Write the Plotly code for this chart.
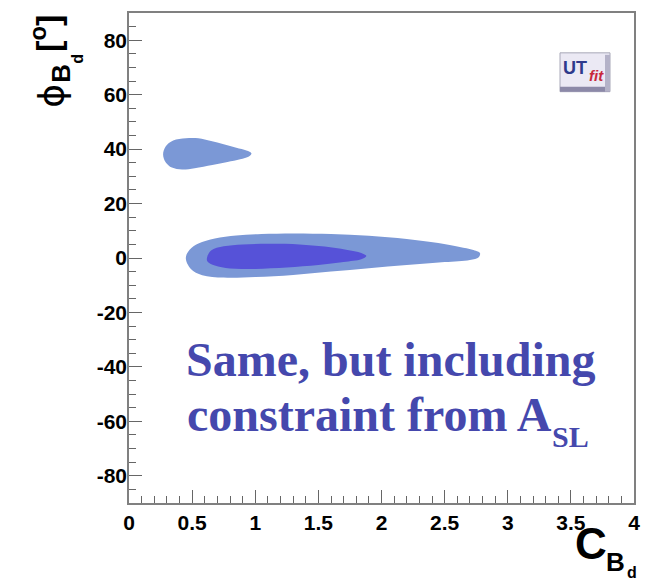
import plotly.graph_objects as go

# ---- data: contour boundaries (C_Bd, phi_Bd [deg]) ----
outer_main_x = [0.45, 0.48, 0.55, 0.68, 0.85, 1.05, 1.30, 1.60, 1.90, 2.20, 2.45, 2.62, 2.72, 2.78, 2.77, 2.70, 2.50, 2.20, 1.90, 1.60, 1.30, 1.00, 0.75, 0.58, 0.49, 0.45]
outer_main_y = [0.0, 3.0, 5.3, 7.2, 8.3, 8.8, 9.0, 8.8, 8.2, 7.0, 5.5, 4.0, 3.0, 1.8, 0.3, -0.7, -1.5, -2.6, -3.8, -5.0, -6.2, -7.0, -7.2, -6.3, -4.0, 0.0]

inner_main_x = [0.62, 0.65, 0.75, 0.90, 1.10, 1.35, 1.55, 1.72, 1.84, 1.88, 1.84, 1.70, 1.50, 1.25, 1.00, 0.80, 0.68, 0.62, 0.62]
inner_main_y = [0.5, 2.8, 4.3, 5.0, 5.2, 5.0, 4.2, 3.0, 1.8, 0.7, -0.5, -1.5, -2.6, -3.5, -4.0, -3.9, -2.8, -1.2, 0.5]

small_x = [0.27, 0.29, 0.35, 0.45, 0.55, 0.65, 0.75, 0.85, 0.93, 0.97, 0.95, 0.88, 0.78, 0.66, 0.52, 0.42, 0.34, 0.29, 0.27]
small_y = [38.0, 41.0, 43.2, 44.0, 44.0, 43.0, 41.8, 40.5, 39.5, 38.5, 37.3, 36.3, 35.3, 34.2, 33.0, 32.5, 33.2, 35.2, 38.0]

x_range = [0, 4]
y_range = [-90, 90]
y_tick_vals = [-80, -60, -40, -20, 0, 20, 40, 60, 80]
y_tick_text = ["-80", "-60", "-40", "-20", "0", "20", "40", "60", "80"]
x_tick_vals = [0, 0.5, 1, 1.5, 2, 2.5, 3, 3.5, 4]
x_tick_text = ["0", "0.5", "1", "1.5", "2", "2.5", "3", "3.5", "4"]

OUTER = "#7b98d6"
INNER = "#5652d8"

fig = go.Figure()
for xs, ys, col in [(outer_main_x, outer_main_y, OUTER),
                    (inner_main_x, inner_main_y, INNER),
                    (small_x, small_y, OUTER)]:
    fig.add_trace(go.Scatter(x=xs, y=ys, mode="lines", fill="toself",
                             fillcolor=col, line=dict(width=0, color=col, shape="spline"),
                             hoverinfo="skip", showlegend=False))

OFF = 8  # page body margin
W, H = 650 - OFF, 579 - OFF
# plot frame in screen pixels
L, R, T, B = 129, 634, 11, 503

def px(x):
    return (x - L) / (R - L)

def py(y):
    return (B - y) / (B - T)

axis_common = dict(showline=True, linecolor="#808080", linewidth=1.5, mirror=True,
                   ticks="inside", tickcolor="#666", tickwidth=1.2,
                   showgrid=False, zeroline=False, tickmode="array",
                   tickfont=dict(family="Liberation Sans", size=21, color="black", weight="bold"))

fig.update_xaxes(range=x_range, tickvals=x_tick_vals, ticktext=x_tick_text, ticklen=13,
                 minor=dict(dtick=0.1, tick0=0, ticklen=7, ticks="inside", tickcolor="#666", tickwidth=1.2),
                 **axis_common)
fig.update_yaxes(range=y_range, tickvals=y_tick_vals, ticktext=y_tick_text, ticklen=13,
                 ticklabelstandoff=-4,
                 minor=dict(dtick=5, tick0=0, ticklen=7, ticks="inside", tickcolor="#666", tickwidth=1.2),
                 **axis_common)

ann = []
SANS = "Liberation Sans"
SERIF = "Liberation Serif"
TXT = "#4548ad"

# x-axis title C_{B_d}
ann.append(dict(text="C", x=px(591), y=py(544), font=dict(family=SANS, size=44, color="black", weight="bold")))
ann.append(dict(text="B", x=px(615), y=py(562), font=dict(family=SANS, size=26, color="black", weight="bold")))
ann.append(dict(text="d", x=px(632), y=py(573), font=dict(family=SANS, size=16, color="black", weight="bold")))

# y-axis title phi_{B_d} [deg]
ann.append(dict(text="ϕ", x=px(52), y=py(94), textangle=-90, font=dict(family="DejaVu Sans", size=36, color="black")))
ann.append(dict(text="B", x=px(61), y=py(72), textangle=-90, font=dict(family=SANS, size=26, color="black", weight="bold")))
ann.append(dict(text="d", x=px(78), y=py(57), textangle=-90, font=dict(family=SANS, size=16, color="black", weight="bold")))
ann.append(dict(text="[<sup>o</sup>]", x=px(46), y=py(32), textangle=-90, font=dict(family=SANS, size=34, color="black", weight="bold")))

# overlay text
ann.append(dict(text="Same, but including", x=px(184), y=py(359), xanchor="left",
                font=dict(family=SERIF, size=48, color=TXT, weight="bold")))
ann.append(dict(text="constraint from A", x=px(185), y=py(414), xanchor="left",
                font=dict(family=SERIF, size=48, color=TXT, weight="bold")))
ann.append(dict(text="SL", x=px(550), y=py(436), xanchor="left",
                font=dict(family=SERIF, size=30, color=TXT, weight="bold")))

# UTfit logo
ann.append(dict(text="UT", x=px(575), y=py(66), font=dict(family=SANS, size=18, color="#2e3a8c", weight="bold")))
ann.append(dict(text="<i>fit</i>", x=px(596), y=py(74), font=dict(family=SANS, size=15, color="#c8283c", weight="bold")))

for a in ann:
    a.setdefault("xanchor", "center")
    a.setdefault("yanchor", "middle")
    a.update(xref="paper", yref="paper", showarrow=False)

shapes = [
    dict(type="rect", xref="paper", yref="paper", x0=px(560), x1=px(610), y0=py(90), y1=py(51),
         fillcolor="#ebe9f4", line=dict(color="#a8a8b8", width=1), layer="above"),
    dict(type="rect", xref="paper", yref="paper", x0=px(560), x1=px(610), y0=py(90), y1=py(85),
         fillcolor="#8c89a8", line=dict(width=0), layer="above"),
    dict(type="rect", xref="paper", yref="paper", x0=px(605), x1=px(610), y0=py(90), y1=py(53),
         fillcolor="#b4b2c8", line=dict(width=0), layer="above"),
]

fig.update_layout(width=W, height=H,
                  margin=dict(l=L - OFF, r=650 - R, t=T - OFF, b=579 - B),
                  paper_bgcolor="white", plot_bgcolor="white",
                  annotations=ann, shapes=shapes, showlegend=False)

fig.write_html("out.html")
